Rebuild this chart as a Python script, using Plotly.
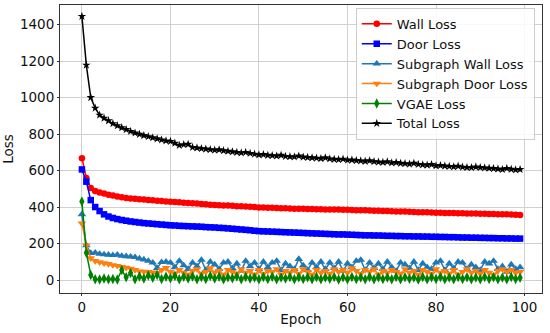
import plotly.graph_objects as go

epochs = list(range(100))

wall_loss = [
    668, 559, 504, 488, 480, 474, 468, 463, 458, 454,
    450, 447, 445, 443, 441, 439, 437, 435, 433, 431,
    429, 427, 426, 424, 422, 421, 419, 417, 415, 413,
    411, 410, 409, 408, 407, 405, 404, 403, 401, 400,
    398, 397, 396, 396, 395, 394, 393, 392, 391, 391,
    390, 389, 389, 388, 388, 387, 387, 386, 386, 385,
    385, 384, 383, 383, 382, 381, 380, 379, 378, 378,
    377, 376, 376, 375, 374, 373, 372, 372, 371, 370,
    369, 369, 368, 368, 367, 366, 366, 365, 365, 364,
    363, 363, 362, 362, 361, 360, 360, 359, 358, 357,
]

door_loss = [
    606, 539, 438, 400, 378, 360, 348, 340, 334, 329,
    325, 321, 318, 315, 312, 310, 308, 306, 304, 302,
    300, 299, 297, 296, 295, 294, 293, 292, 290, 289,
    288, 286, 285, 283, 281, 279, 277, 275, 273, 270,
    268, 267, 266, 265, 264, 263, 262, 261, 260, 259,
    258, 257, 256, 255, 254, 253, 252, 251, 250, 250,
    249, 248, 247, 246, 245, 245, 244, 244, 243, 242,
    242, 241, 241, 240, 240, 239, 239, 238, 238, 237,
    237, 236, 236, 235, 235, 234, 233, 233, 232, 232,
    231, 231, 230, 230, 229, 229, 228, 228, 227, 227,
]

sub_wall_loss = [
    360, 190, 148, 150, 143, 140, 138, 136, 138, 132,
    130, 128, 125, 118, 112, 105, 95, 66, 98, 100,
    95, 70, 105, 80, 60, 95, 75, 110, 55, 100,
    85, 60, 95, 100, 65, 90, 50, 105, 75, 95,
    60, 100, 70, 95, 105, 55, 90, 75, 60, 115,
    80, 55, 95, 70, 100, 60, 95, 65, 100, 50,
    90, 70, 105, 110, 55, 95, 65, 90, 60, 100,
    70, 50, 95, 85, 65, 100, 55, 90, 70, 60,
    95, 105, 55, 90, 65, 100, 95, 60, 85, 70,
    55, 100, 90, 105, 60, 75, 45, 85, 60, 70,
]

sub_door_loss = [
    310, 190, 120, 105, 98, 92, 88, 82, 78, 72,
    68, 62, 55, 48, 46, 45, 42, 38, 55, 66,
    45, 35, 55, 40, 30, 50, 60, 35, 45, 65,
    40, 50, 30, 55, 45, 35, 60, 40, 50, 30,
    55, 35, 50, 45, 60, 30, 50, 40, 55, 35,
    60, 45, 30, 55, 40, 50, 35, 60, 45, 55,
    40, 65, 50, 35, 55, 45, 60, 30, 50, 40,
    55, 45, 35, 60, 40, 50, 30, 55, 45, 35,
    60, 40, 50, 35, 55, 30, 45, 60, 40, 50,
    35, 55, 40, 30, 50, 60, 45, 55, 40, 45,
]

vgae_loss = [
    430, 150, 28, 5, 3, 8, 4, 6, 3, 55,
    15, 38, 5, 20, 8, 25, 12, 28, 6, 18,
    10, 22, 5, 18, 8, 20, 4, 16, 6, 22,
    8, 18, 4, 15, 10, 20, 5, 16, 8, 14,
    4, 16, 6, 18, 5, 14, 8, 16, 4, 15,
    6, 15, 4, 17, 5, 14, 7, 16, 3, 15,
    5, 16, 6, 14, 4, 17, 5, 15, 6, 14,
    4, 16, 5, 15, 7, 14, 3, 16, 5, 15,
    6, 17, 4, 14, 5, 16, 6, 15, 4, 14,
    5, 16, 6, 15, 4, 14, 5, 16, 6, 12,
]

total_loss = [
    1445, 1178, 1000, 942, 904, 887, 873, 857, 846, 835,
    825, 815, 806, 799, 792, 786, 780, 774, 768, 763,
    760, 750, 738, 742, 744, 727, 724, 720, 718, 715,
    712, 714, 709, 706, 703, 700, 697, 700, 694, 690,
    686, 688, 684, 682, 680, 684, 678, 676, 675, 680,
    674, 672, 670, 668, 666, 670, 664, 662, 660, 663,
    657, 658, 655, 653, 651, 654, 649, 647, 645, 648,
    642, 644, 640, 638, 636, 640, 634, 632, 630, 633,
    626, 628, 625, 623, 621, 624, 619, 617, 616, 620,
    617, 615, 613, 611, 609, 606, 612, 607, 604, 606,
]

series = [
    ("Wall Loss", wall_loss, "#ff0000", "circle", 6.5),
    ("Door Loss", door_loss, "#0000ff", "square", 6.5),
    ("Subgraph Wall Loss", sub_wall_loss, "#1f77b4", "triangle-up", 7.5),
    ("Subgraph Door Loss", sub_door_loss, "#ff7f0e", "triangle-down", 7.5),
    ("VGAE Loss", vgae_loss, "#008000", "diamond-tall", 7.5),
    ("Total Loss", total_loss, "#000000", "star", 6.5),
]

fig = go.Figure()
for name, vals, color, sym, size in series:
    fig.add_trace(go.Scatter(
        x=epochs, y=vals, name=name, mode="lines+markers",
        line=dict(color=color, width=1.5),
        marker=dict(symbol=sym, size=size, color=color, line=dict(width=0)),
    ))

font = "DejaVu Sans, sans-serif"
axis_common = dict(
    showline=True, linecolor="#333333", linewidth=1, mirror=True,
    showgrid=True, gridcolor="#d0d0d0", gridwidth=1,
    ticks="outside", ticklen=2, tickcolor="#333333",
    zeroline=False, automargin=False,
    tickfont=dict(family=font, size=13.5, color="#111111"),
)

fig.update_layout(
    width=550, height=333,
    margin=dict(l=60, r=8, t=5, b=40),
    paper_bgcolor="white", plot_bgcolor="white",
    font=dict(family=font, size=13.5, color="#111111"),
    xaxis=dict(range=[-4.95, 103.95], tickvals=[0, 20, 40, 60, 80, 100],
               title=dict(text="Epoch", font=dict(family=font, size=13.5), standoff=0),
               **axis_common),
    yaxis=dict(range=[-71, 1507], tickvals=[0, 200, 400, 600, 800, 1000, 1200, 1400],
               title=dict(text="Loss", font=dict(family=font, size=13.5), standoff=4),
               **axis_common),
    legend=dict(x=0.985, y=0.99, xanchor="right", yanchor="top",
                bgcolor="rgba(255,255,255,0.85)", bordercolor="#cccccc", borderwidth=1,
                font=dict(family=font, size=13), itemwidth=30, tracegroupgap=0),
    showlegend=True,
)

fig.write_html("out.html", config={"displayModeBar": False},
               post_script="document.body.style.margin='0';")
